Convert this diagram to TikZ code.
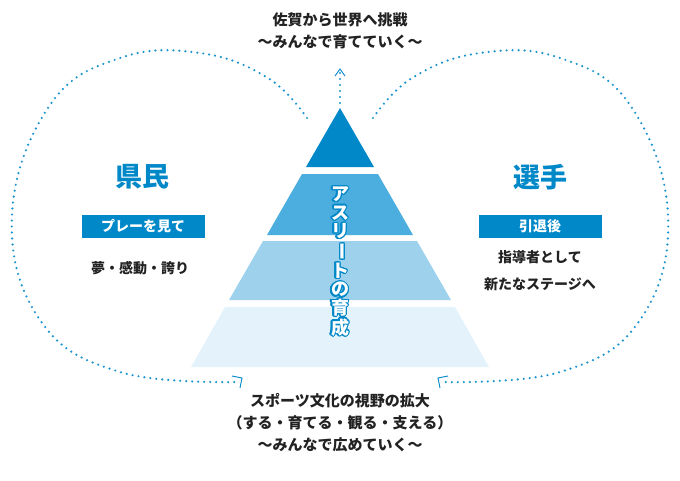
\documentclass[tikz,border=0pt]{standalone}
\usepackage{fontspec}
\setmainfont{Noto Sans CJK JP}
\usepackage{contour}
\contourlength{1.2pt}
\usetikzlibrary{arrows.meta}
\definecolor{c0}{HTML}{0088C8}
\definecolor{c1}{HTML}{4BAEDF}
\definecolor{c2}{HTML}{9ED2EC}
\definecolor{c3}{HTML}{E4F3FB}
\definecolor{tx}{HTML}{222222}
\tikzset{
  dotline/.style={c0!90, line width=2.4pt, dash pattern=on 0pt off 6pt, line cap=round},
  lbl/.style={font=\bfseries\fontsize{15}{22}\selectfont, text=tx, align=center},
  head/.style={font=\bfseries\fontsize{27}{30}\selectfont, text=c0},
  tag/.style={fill=c0, text=white, font=\bfseries\fontsize{14}{16}\selectfont, minimum width=123pt, minimum height=23pt, inner sep=0pt},
}
\begin{document}
\begin{tikzpicture}[x=1pt,y=-1pt]
\useasboundingbox (0,0) rectangle (680,480);
% pyramid
\fill[c0] (340,108) -- (374,167) -- (306,167) -- cycle;
\fill[c1] (302,174) -- (378,174) -- (413,235) -- (267,235) -- cycle;
\fill[c2] (263,241) -- (417,241) -- (451,300) -- (229,300) -- cycle;
\fill[c3] (225,307) -- (455,307) -- (489,367) -- (191,367) -- cycle;
\node[font=\bfseries\fontsize{18}{18.5}\selectfont, align=center, inner sep=0pt] (v) at (340,262)
 {\contour{c0}{\color{white}ア}\\ \contour{c0}{\color{white}ス}\\ \contour{c0}{\color{white}リ}\\ \contour{c0}{\color{white}\rotatebox[origin=c]{-90}{ー}}\\ \contour{c0}{\color{white}ト}\\ \contour{c0}{\color{white}の}\\ \contour{c0}{\color{white}育}\\ \contour{c0}{\color{white}成}};
% texts
\node[lbl] (top) at (340,31) {佐賀から世界へ挑戦\\～みんなで育てていく～};
\node[lbl] (bot) at (340,423) {スポーツ文化の視野の拡大\\（する・育てる・観る・支える）\\～みんなで広めていく～};
\node[head] (L) at (142,177) {県民};
\node[tag] (Lt) at (143,226) {プレーを見て};
\node[lbl, font=\bfseries\fontsize{14}{20}\selectfont] (Ls) at (140,268) {夢・感動・誇り};
\node[head] (R) at (540,177) {選手};
\node[tag] (Rt) at (540,226) {引退後};
\node[lbl, font=\bfseries\fontsize{14}{27}\selectfont] (Rs) at (540,271) {指導者として\\新たなステージへ};
% connectors
\coordinate (a0) at (340,103); \coordinate (a1) at (340,70);
\draw[dotline] (a0) -- (a1);
\draw[c0, line width=0.9pt] (335,76) -- (340,69) -- (345,76);
\draw[dotline] plot[smooth, tension=0.7] coordinates {(307,118) (268,78) (200,53) (120,58) (50,105) (12,215) (40,320) (120,372) (240,382)};
\draw[c0, line width=0.9pt] (232,376) -- (242,378) -- (240,388);
\draw[dotline] plot[smooth, tension=0.7] coordinates {(373,118) (412,78) (480,53) (560,58) (630,105) (668,215) (640,320) (560,372) (440,382)};
\draw[c0, line width=0.9pt] (448,376) -- (438,378) -- (440,388);
\end{tikzpicture}
\end{document}
